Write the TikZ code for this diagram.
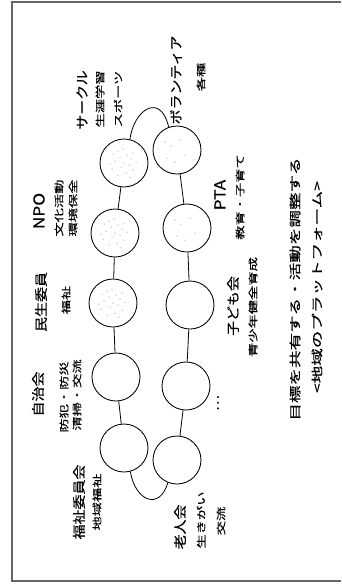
\documentclass[tikz,border=0pt]{standalone}
\usepackage{fontspec}
\newfontfamily\jptitle[FakeStretch=1.15, FakeBold=0.45]{Noto Sans CJK JP}
\newfontfamily\jpflat[FakeStretch=1.5, FakeBold=0.2]{Noto Sans CJK JP}
\newfontfamily\jplead[FakeStretch=1.5, FakeBold=0.6]{Noto Sans CJK JP}
\begin{document}
\begin{tikzpicture}[x=1pt, y=-1pt, line width=0.8pt]
\tikzstyle{every node}+=[inner sep=0pt]
\tikzstyle{group}=[draw, circle, fill=white, minimum size=48pt, line width=0.85pt]
\tikzstyle{dense}=[path picture={
  \foreach \dx/\dy in {-12/-6,-6/-12,2/-10,9/-7,-9/2,-3/-4,5/-2,12/1,-11/9,-4/6,3/8,9/10,-1/14,6/-14,-14/-1,0/0,7/4,-6/12}
    \fill [black!60] ([xshift=\dx pt, yshift=\dy pt]path picture bounding box.center) circle (0.5pt);}]
\tikzstyle{sparse}=[path picture={
  \foreach \dx/\dy in {-10/-8,-6/4,3/10,8/-5,-2/-12,-12/8}
    \fill [black!60] ([xshift=\dx pt, yshift=\dy pt]path picture bounding box.center) circle (0.5pt);}]
\tikzstyle{title}=[rotate=90, font=\jptitle\fontsize{13}{13}\selectfont]
\tikzstyle{note}=[rotate=90, font=\jpflat\fontsize{9.5}{9.5}\selectfont]
\tikzstyle{lead}=[rotate=90, font=\jplead\fontsize{11.7}{12}\selectfont]
\useasboundingbox (0,0) rectangle (341,584);
\draw [black!60, line width=1.4pt] (341,2) -- (12,2) -- (12,581) -- (341,581);
% upper row of the ring
\node [group, dense] (circle) at (124,163) {};
\node [group, dense] (npo) at (115,233) {};
\node [group, dense] (minsei) at (113,303) {};
\node [group] (jichi) at (116,377) {};
\node [group] (fukushi) at (124,448) {};
% lower row of the ring
\node [group, sparse] (volunteer) at (177,150) {};
\node [group, sparse] (pta) at (187,228) {};
\node [group] (kodomo) at (190,305) {};
\node [group] (other) at (186,386) {};
\node [group] (rojin) at (177,460) {};
\draw (circle) -- (npo) -- (minsei) -- (jichi) -- (fukushi);
\draw (volunteer) -- (pta) -- (kodomo) -- (other) -- (rojin);
\draw (circle.76) .. controls +(4,-30) and +(-8,-35) .. (volunteer.110);
\draw (fukushi.285) .. controls +(5,30) and +(-8,28) .. (rojin.248);
% labels
\node [title] (circlet) at (82,100) {サークル};
\node [note] (circlea) at (100,99) {生涯学習};
\node [note] (circleb) at (118,99) {スポーツ};
\node [title] (volt) at (176,80) {ボランティア};
\node [note] (vola) at (201,77) {各種};
\node [title, font=\jptitle\fontsize{15}{15}\selectfont] (npot) at (39,211) {NPO};
\node [note] (npoa) at (59,208) {文化活動};
\node [note] (npob) at (73,208) {環境保全};
\node [title] (minseit) at (41,302) {民生委員};
\node [note] (minseia) at (66,300) {福祉};
\node [title] (jichit) at (38,394) {自治会};
\node [note] (jichia) at (64,397) {防犯・防災};
\node [note] (jichib) at (77,395) {清掃・交流};
\node [title] (fukushit) at (79,502) {福祉委員会};
\node [note] (fukushia) at (97,502) {地域福祉};
\node [title, font=\jptitle\fontsize{15}{15}\selectfont] (ptat) at (220,195) {PTA};
\node [note] (ptaa) at (240,197) {教育・子育て};
\node [title] (kodomot) at (233,306) {子ども会};
\node [note] (kodomoa) at (253,307) {青少年健全育成};
\node [title] (othert) at (218,403) {…};
\node [title] (rojint) at (180,527) {老人会};
\node [note] (rojina) at (201,520) {生きがい};
\node [note] (rojinb) at (221,521) {交流};
\node [lead] (goal) at (295,289) {目標を共有する・活動を調整する};
\node [lead] (platform) at (317,287) {<地域のプラットフォーム>};
\end{tikzpicture}
\end{document}
